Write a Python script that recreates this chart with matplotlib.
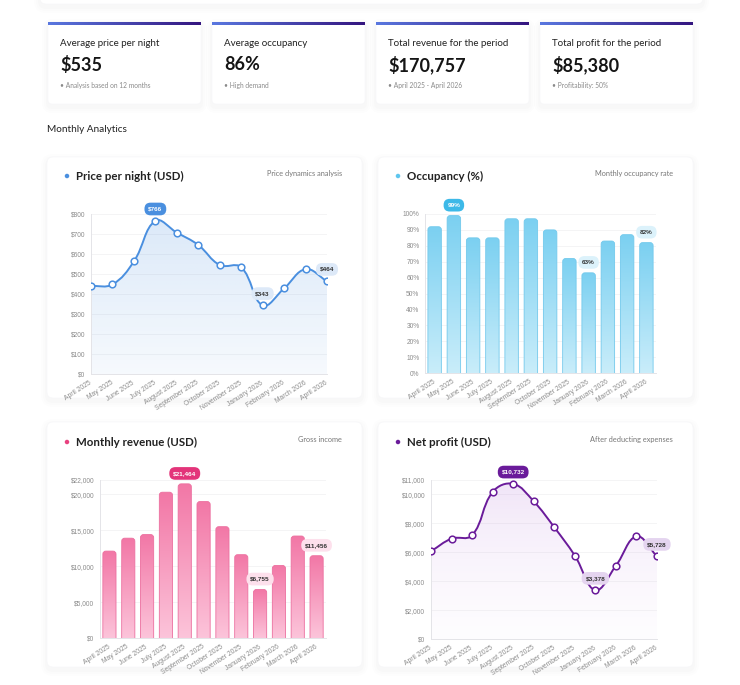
import numpy as np
import matplotlib
matplotlib.use('Agg')
import matplotlib.pyplot as plt
from matplotlib.path import Path
from matplotlib.patches import PathPatch, FancyBboxPatch, Ellipse
from matplotlib.colors import to_rgba

W, H = 740, 685

# data
months = ['April 2025', 'May 2025', 'June 2025', 'July 2025', 'August 2025',
          'September 2025', 'October 2025', 'November 2025', 'January 2026',
          'February 2026', 'March 2026', 'April 2026']
price = [440, 448, 563, 766, 707, 645, 545, 534, 343, 428, 524, 464]
occupancy = [92, 99, 85, 85, 97, 97, 90, 72, 63, 83, 87, 82]
revenue = [12100, 13900, 14400, 20300, 21464, 19000, 15500, 11600, 6755, 10100, 14200, 11456]
profit = [6070, 6940, 7170, 10170, 10732, 9520, 7730, 5770, 3378, 5070, 7100, 5728]

price_ticks = [0, 100, 200, 300, 400, 500, 600, 700, 800]
occ_ticks = [0, 10, 20, 30, 40, 50, 60, 70, 80, 90, 100]
rev_ticks = [0, 5000, 10000, 15000, 20000, 22000]
profit_ticks = [0, 2000, 4000, 6000, 8000, 10000, 11000]

kpi_titles = ['Average price per night', 'Average occupancy',
              'Total revenue for the period', 'Total profit for the period']
kpi_values = ['$535', '86%', '$170,757', '$85,380']
kpi_notes = ['Analysis based on 12 months', 'High demand',
             'April 2025 - April 2026', 'Profitability: 50%']

UI = 'Lato'
TICK = 'Liberation Sans'

fig = plt.figure(figsize=(W / 100, H / 100), dpi=100)
fig.patch.set_facecolor('white')

# background layer in pixel coordinates
bg = fig.add_axes([0, 0, 1, 1])
bg.set_xlim(0, W)
bg.set_ylim(H, 0)
bg.axis('off')


def card(x0, y0, x1, y1, r=6):
    # very soft shadow, mostly below the card
    for k, a in [(6, 0.008), (4, 0.012), (2, 0.016)]:
        bg.add_patch(FancyBboxPatch((x0 - k, y0 - k + 3), x1 - x0 + 2 * k, y1 - y0 + 2 * k,
                                    boxstyle='round,pad=0,rounding_size=%g' % (r + k),
                                    fc=(0.35, 0.38, 0.45, a), ec='none'))
    bg.add_patch(FancyBboxPatch((x0, y0), x1 - x0, y1 - y0,
                                boxstyle='round,pad=0,rounding_size=%g' % r,
                                fc='white', ec='#f6f6f8', lw=0.4))


# top strip
card(40, -30, 703, 4)

# KPI cards
kpi_x = [(48, 201), (212, 365), (376, 529), (540, 693)]
grad = np.linspace(0, 1, 256)
c0 = np.array(to_rgba('#5a78e0')[:3])
c1 = np.array(to_rgba('#34157f')[:3])
bar_img = (c0[None, :] * (1 - grad[:, None]) + c1[None, :] * grad[:, None])[None, :, :]
for (x0, x1), t, v, n in zip(kpi_x, kpi_titles, kpi_values, kpi_notes):
    card(x0, 22, x1, 104, r=4)
    bg.imshow(bar_img, extent=[x0, x1, 25, 22], aspect='auto', zorder=3, interpolation='bilinear')
    bg.text(x0 + 12, 43, t, fontsize=7, family=UI, color='#222222', va='center')
    bg.text(x0 + 12, 64.5, v, fontsize=13, family=UI, fontweight='bold', color='#151515', va='center')
    bg.text(x0 + 12, 85, '\u2022 ' + n, fontsize=4.8, family=UI, color='#8a8a8a', va='center')
bg.set_xlim(0, W)
bg.set_ylim(H, 0)

bg.text(47, 129, 'Monthly Analytics', fontsize=7.2, family=UI, color='#222222', va='center')

# chart cards
cards = [(47, 157, 362, 398), (378, 157, 693, 398), (47, 422, 362, 667), (378, 422, 693, 667)]
for c in cards:
    card(*c, r=6)

titles = [('Price per night (USD)', 'Price dynamics analysis', '#4a8fdf'),
          ('Occupancy (%)', 'Monthly occupancy rate', '#5ec6ee'),
          ('Monthly revenue (USD)', 'Gross income', '#e8417f'),
          ('Net profit (USD)', 'After deducting expenses', '#6a1b9a')]
title_y = [176, 176, 442, 442]
for (x0, y0, x1, y1), (t, s, col), ty in zip(cards, titles, title_y):
    bg.add_patch(Ellipse((x0 + 20, ty), 4.5, 4.5, fc=col, ec='none'))
    bg.text(x0 + 29, ty, t, fontsize=8.3, family=UI, fontweight='bold', color='#222222', va='center')
    bg.text(x1 - 20, ty - 3, s, fontsize=5.3, family=UI, color='#777777', va='center', ha='right')


def px_axes(left, top, right, bottom):
    ax = fig.add_axes([left / W, 1 - bottom / H, (right - left) / W, (bottom - top) / H])
    ax.patch.set_alpha(0)
    return ax


def style(ax, ticks, fmt):
    for s in ['top', 'right']:
        ax.spines[s].set_visible(False)
    for s in ['left', 'bottom']:
        ax.spines[s].set_color('#e4e4e8')
        ax.spines[s].set_linewidth(0.7)
    ax.set_yticks(ticks)
    ax.set_yticklabels([fmt(t) for t in ticks], fontsize=4.8, family=TICK, color='#8c8c8c')
    ax.yaxis.grid(True, color='#f2f2f4', lw=0.6)
    ax.set_axisbelow(True)
    ax.tick_params(length=0, pad=4)
    ax.set_xticks(range(len(months)))
    ax.set_xticklabels(months, rotation=33, ha='right', va='center', rotation_mode='anchor',
                       fontsize=4.9, family=TICK, color='#8c8c8c')
    ax.tick_params(axis='x', pad=6)


def smooth(ax, xs, ys, tension=0.4):
    # bezier control points like a chart.js spline, computed in pixels
    pts = ax.transData.transform(np.column_stack([xs, ys]))
    n = len(pts)
    cp, cn = [], []
    for i in range(n):
        p0 = pts[i - 1] if i > 0 else pts[i]
        p1 = pts[i]
        p2 = pts[i + 1] if i < n - 1 else pts[i]
        d01 = np.hypot(*(p1 - p0))
        d12 = np.hypot(*(p2 - p1))
        tot = d01 + d12
        s01 = d01 / tot if tot else 0
        s12 = d12 / tot if tot else 0
        cp.append(p1 - tension * s01 * (p2 - p0))
        cn.append(p1 + tension * s12 * (p2 - p0))
    verts = [pts[0]]
    codes = [Path.MOVETO]
    for i in range(n - 1):
        verts += [cn[i], cp[i + 1], pts[i + 1]]
        codes += [Path.CURVE4] * 3
    return ax.transData.inverted().transform(np.array(verts)), codes


def vgrad(c_top, c_bot, a_top=1, a_bot=1, n=128):
    t = np.linspace(0, 1, n)[:, None]
    top = np.array(to_rgba(c_top, a_top))
    bot = np.array(to_rgba(c_bot, a_bot))
    return (top * (1 - t) + bot * t)[:, None, :]


def pill(ax, x, y, text, fc, tc, dy):
    ax.annotate(text, (x, y), xytext=(0, dy), textcoords='offset points',
                ha='center', va='center', fontsize=4.6, fontweight='bold', family=TICK, color=tc,
                bbox=dict(boxstyle='round,pad=0.6,rounding_size=0.95', fc=fc, ec='none'),
                zorder=10, annotation_clip=False)


def line_chart(ax, vals, ymax, col, fill_top, fill_bot):
    xs = np.arange(len(vals))
    ax.set_xlim(0, len(vals) - 1)
    ax.set_ylim(0, ymax)
    verts, codes = smooth(ax, xs, vals)
    area = np.vstack([verts, [[xs[-1], 0], [xs[0], 0], [xs[0], vals[0]]]])
    acodes = codes + [Path.LINETO, Path.LINETO, Path.CLOSEPOLY]
    clip = PathPatch(Path(area, acodes), fc='none', ec='none')
    ax.add_patch(clip)
    im = ax.imshow(vgrad(fill_top, fill_bot, 0.2, 0.05), extent=[0, len(vals) - 1, 0, ymax],
                   aspect='auto', zorder=1, interpolation='bilinear')
    im.set_clip_path(clip)
    ax.add_patch(PathPatch(Path(verts, codes), fc='none', ec=col, lw=1.4, zorder=3))
    ax.plot(xs, vals, 'o', ms=4.8, mfc='white', mec=col, mew=1.1, zorder=4)
    ax.set_xlim(0, len(vals) - 1)
    ax.set_ylim(0, ymax)
    return int(np.argmax(vals)), int(np.argmin(vals))


def bar_chart(ax, vals, ymax, top_c, bot_c, edge):
    xs = np.arange(len(vals))
    ax.set_xlim(-0.5, len(vals) - 0.5)
    ax.set_ylim(0, ymax)
    bars = ax.bar(xs, vals, width=0.7, color='none', ec='none')
    bb = ax.get_window_extent()
    xpp = len(vals) / bb.width
    ypp = ymax / bb.height
    r = 3 * xpp
    for b in bars:
        bx, bw, bh = b.get_x(), b.get_width(), b.get_height()
        patch = FancyBboxPatch((bx, -6 * ypp), bw, bh + 6 * ypp,
                               boxstyle='round,pad=0,rounding_size=%g' % r,
                               mutation_aspect=ypp / xpp, fc='none', ec=edge, lw=0.6, zorder=3)
        ax.add_patch(patch)
        im = ax.imshow(vgrad(top_c, bot_c), extent=[bx, bx + bw, 0, bh], aspect='auto',
                       zorder=2, interpolation='bilinear')
        im.set_clip_path(patch)
    ax.set_xlim(-0.5, len(vals) - 0.5)
    ax.set_ylim(0, ymax)


# price per night
ax1 = px_axes(91, 214, 327, 374)
style(ax1, price_ticks, lambda v: '$%d' % v)
imax, imin = line_chart(ax1, price, 800, '#4a8fdf', '#4a8fdf', '#4a8fdf')
pill(ax1, imax, price[imax], '$%d' % price[imax], '#4a8fdf', 'white', 8.5)
pill(ax1, imin, price[imin], '$%d' % price[imin], '#dde9f8', '#333333', 8.5)
pill(ax1, 11, price[11], '$%d' % price[11], '#dde9f8', '#333333', 8.5)

# occupancy
ax2 = px_axes(425, 214, 656, 373)
style(ax2, occ_ticks, lambda v: '%d%%' % v)
bar_chart(ax2, occupancy, 100, '#7bd0f1', '#c9edfa', '#72c9ec')
i = int(np.argmax(occupancy))
pill(ax2, i, occupancy[i], '%d%%' % occupancy[i], '#3db9e8', 'white', 7.5)
i = int(np.argmin(occupancy))
pill(ax2, i, occupancy[i], '%d%%' % occupancy[i], '#dcf2fb', '#333333', 7.5)
pill(ax2, 11, occupancy[11], '%d%%' % occupancy[11], '#dcf2fb', '#333333', 7.5)

# revenue
ax3 = px_axes(100, 480, 326, 638)
style(ax3, rev_ticks, lambda v: '${:,}'.format(v))
bar_chart(ax3, revenue, 22000, '#f277a6', '#fcc4da', '#ec6f9f')
i = int(np.argmax(revenue))
pill(ax3, i, revenue[i], '${:,}'.format(revenue[i]), '#e3347a', 'white', 7.5)
i = int(np.argmin(revenue))
pill(ax3, i, revenue[i], '${:,}'.format(revenue[i]), '#fde0ec', '#333333', 7.5)
pill(ax3, 11, revenue[11], '${:,}'.format(revenue[11]), '#fde0ec', '#333333', 7.5)

# net profit
ax4 = px_axes(431, 480, 657, 639)
style(ax4, profit_ticks, lambda v: '${:,}'.format(v))
imax, imin = line_chart(ax4, profit, 11000, '#6a1b9a', '#b57ad8', '#e9d3f6')
pill(ax4, imax, profit[imax], '${:,}'.format(profit[imax]), '#6a1b9a', 'white', 8.5)
pill(ax4, imin, profit[imin], '${:,}'.format(profit[imin]), '#e4d4ef', '#333333', 8.5)
pill(ax4, 11, profit[11], '${:,}'.format(profit[11]), '#e4d4ef', '#333333', 8.5)

fig.savefig('out.png', dpi=100, facecolor='white')
